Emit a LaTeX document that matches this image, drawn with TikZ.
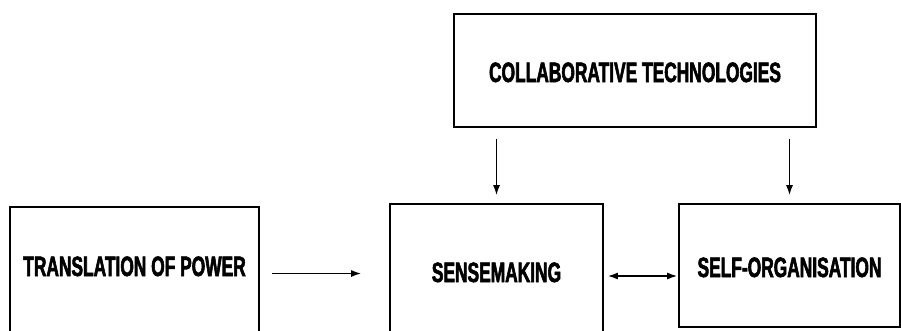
\documentclass[tikz,border=0pt]{standalone}
\usepackage{fontspec}
\newfontfamily\boxfont{Liberation Sans}[FakeStretch=0.62,FakeBold=2]
\usepackage{tikz}
\usetikzlibrary{arrows.meta}

\begin{document}
\begin{tikzpicture}[
x=1pt,y=-1pt,
conceptbox/.style={
  draw,
  line width=1.6pt,
  inner sep=0pt,
  anchor=base,
  font=\boxfont\bfseries\fontsize{28}{30}\selectfont
  },
head/.tip={Latex[length=10pt,width=7pt]},
link/.style={-head,line width=1.5pt}
]
\clip (0,0) rectangle (901,330);
\node[conceptbox,minimum width=362pt,text height=68pt,text depth=45pt] (collab) at (635,82) {COLLABORATIVE TECHNOLOGIES};
\node[conceptbox,minimum width=249pt,text height=69pt,text depth=64pt] (trans) at (134.5,276) {TRANSLATION OF POWER};
\node[conceptbox,minimum width=213pt,text height=78pt,text depth=58pt] (sense) at (496.5,282) {SENSEMAKING};
\node[conceptbox,minimum width=221pt,text height=73pt,text depth=50pt] (selforg) at (789.5,277) {SELF-ORGANISATION};
\draw[link,shorten <=11pt,shorten >=8pt] (sense.north |- collab.south) -- (sense.north);
\draw[link,shorten <=11pt,shorten >=8pt] (selforg.north |- collab.south) -- (selforg.north);
\draw[link,shorten <=12pt,shorten >=28pt] (trans.east) -- (trans.east -| sense.west);
\draw[link,head-head,shorten <=4pt,shorten >=1pt] ([yshift=-4pt]sense.east) -- ([yshift=-4pt]sense.east -| selforg.west);
\end{tikzpicture}
\end{document}
